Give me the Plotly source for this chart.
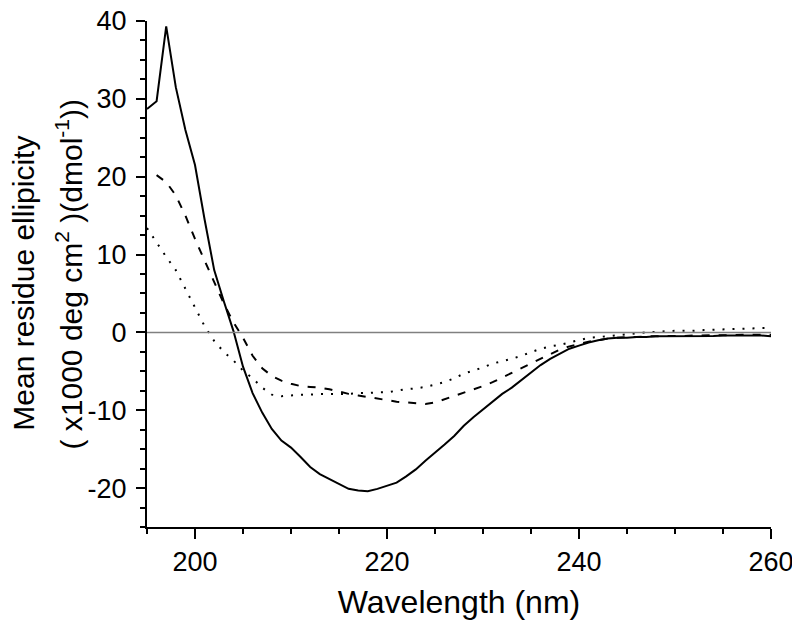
import plotly.graph_objects as go

wavelength_solid = list(range(195, 261))
solid = [28.7, 29.7, 39.3, 31.5, 26.0, 21.5, 14.5, 8.0, 4.0, 0.2,
         -4.4, -7.8, -10.3, -12.4, -13.9, -14.8, -16.0, -17.3, -18.2, -18.8,
         -19.4, -20.1, -20.3, -20.4, -20.1, -19.7, -19.3, -18.5, -17.6, -16.5,
         -15.5, -14.4, -13.3, -12.0, -10.9, -9.9, -8.9, -7.9, -7.1, -6.1,
         -5.1, -4.2, -3.4, -2.7, -2.1, -1.7, -1.3, -1.0, -0.8, -0.7,
         -0.7, -0.6, -0.6, -0.5, -0.5, -0.5, -0.5, -0.5, -0.45, -0.45,
         -0.4, -0.4, -0.35, -0.35, -0.4, -0.5]

wavelength_dashed = list(range(196, 261))
dashed = [20.2, 19.3, 17.6, 15.0, 12.0, 9.2, 6.3, 3.7, 1.3, -0.7,
          -3.0, -4.6, -5.6, -6.2, -6.6, -6.9, -7.0, -7.1, -7.3, -7.6,
          -7.9, -8.1, -8.3, -8.5, -8.7, -8.9, -9.0, -9.1, -9.2, -9.0,
          -8.6, -8.2, -7.8, -7.4, -6.9, -6.4, -5.8, -5.2, -4.6, -4.0,
          -3.3, -2.7, -2.2, -1.8, -1.5, -1.2, -1.0, -0.8, -0.7, -0.6,
          -0.6, -0.5, -0.5, -0.5, -0.45, -0.45, -0.4, -0.4, -0.4, -0.35,
          -0.35, -0.3, -0.3, -0.3, -0.3]

wavelength_dotted = list(range(195, 261))
dotted = [13.4, 11.5, 9.7, 8.0, 5.6, 3.4, 0.8, -1.1, -2.5, -3.6,
          -4.9, -5.9, -7.1, -8.0, -8.2, -8.1, -8.0, -8.0, -7.9, -7.9,
          -7.9, -7.9, -7.8, -7.8, -7.7, -7.7, -7.5, -7.3, -7.2, -7.0,
          -6.7, -6.4, -5.9, -5.3, -4.9, -4.5, -4.0, -3.7, -3.4, -3.0,
          -2.5, -2.1, -1.8, -1.6, -1.3, -1.0, -0.7, -0.6, -0.5, -0.35,
          -0.25, -0.1, 0.0, 0.05, 0.15, 0.2, 0.2, 0.2, 0.3, 0.35,
          0.35, 0.4, 0.45, 0.5, 0.55, 0.55]

x_ticks = [200, 220, 240, 260]
y_ticks = [-20, -10, 0, 10, 20, 30, 40]

y_title_line1 = "Mean residue ellipicity"
y_title_line2 = "( x1000 deg cm<sup>2</sup> )(dmol<sup>-1</sup>))"
x_title = "Wavelength (nm)"

font_family = "Liberation Sans, Arial, sans-serif"

fig = go.Figure()
fig.add_trace(go.Scatter(x=wavelength_solid, y=solid, mode="lines",
                         line=dict(color="black", width=2, dash="solid"),
                         showlegend=False))
fig.add_trace(go.Scatter(x=wavelength_dashed, y=dashed, mode="lines",
                         line=dict(color="black", width=2, dash="8px,9px"),
                         showlegend=False))
fig.add_trace(go.Scatter(x=wavelength_dotted, y=dotted, mode="lines",
                         line=dict(color="black", width=2, dash="2px,8px"),
                         showlegend=False))

fig.add_hline(y=0, line=dict(color="#808080", width=1.5))

fig.update_layout(
    width=800, height=627,
    margin=dict(l=139, r=37, t=13, b=108),
    paper_bgcolor="white", plot_bgcolor="white",
    font=dict(family=font_family, color="black", size=27),
)
fig.update_xaxes(
    range=[195, 260], showgrid=False, zeroline=False, automargin=False,
    showline=True, linecolor="black", linewidth=2,
    tickmode="array", tickvals=x_ticks, ticktext=[str(v) for v in x_ticks],
    ticks="outside", ticklen=10, tickwidth=2, tickcolor="black",
    tickfont=dict(family=font_family, size=27), ticklabelstandoff=0,
    ticklabeloverflow="allow",
    minor=dict(dtick=5, tick0=195, ticks="outside", ticklen=5, tickwidth=2, tickcolor="black"),
    title=dict(text=x_title, font=dict(family=font_family, size=32), standoff=14),
)
fig.update_yaxes(
    range=[-25, 40], showgrid=False, zeroline=False, automargin=False,
    showline=True, linecolor="black", linewidth=2,
    tickmode="array", tickvals=y_ticks, ticktext=[str(v) for v in y_ticks],
    ticks="outside", ticklen=9, tickwidth=2, tickcolor="black",
    tickfont=dict(family=font_family, size=27), ticklabelstandoff=4,
    ticklabeloverflow="allow",
    minor=dict(dtick=2.5, tick0=0, ticks="outside", ticklen=5, tickwidth=2, tickcolor="black"),
)

fig.add_annotation(text=y_title_line1, textangle=-90, xref="paper", yref="paper",
                   x=-0.197, y=0.481, xanchor="center", yanchor="middle", showarrow=False,
                   font=dict(family=font_family, size=30, color="black"))
fig.add_annotation(text=y_title_line2, textangle=-90, xref="paper", yref="paper",
                   x=-0.125, y=0.499, xanchor="center", yanchor="middle", showarrow=False,
                   font=dict(family=font_family, size=30, color="black"))

fig.write_html("out.html")
